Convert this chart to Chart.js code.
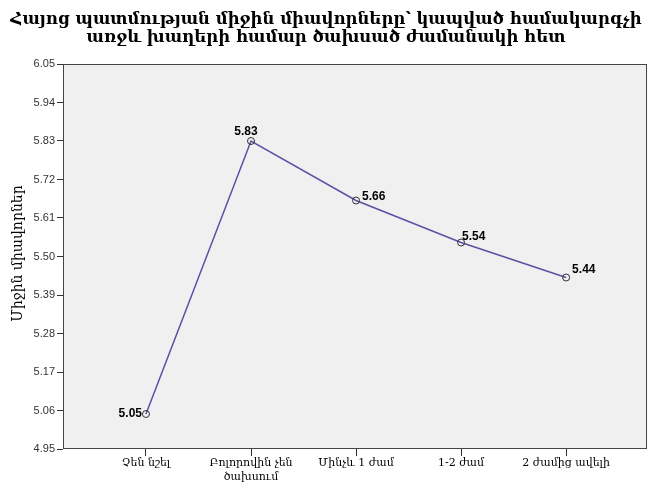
<!DOCTYPE html>
<html>
<head>
<meta charset="utf-8">
<script src="https://cdn.jsdelivr.net/npm/chart.js@4"></script>
<style>
  html, body { margin: 0; padding: 0; background: #fff; }
  #wrap { width: 652px; height: 483px; }
</style>
</head>
<body>
<div id="wrap"><canvas id="chart" width="652" height="483"></canvas></div>
<script>
// Խմբեր՝ ըստ խաղերի համար ծախսած ժամանակի
const categories = ['Չեն նշել', ['Բոլորովին չեն', 'ծախսում'], 'Մինչև 1 ժամ', '1-2 ժամ', '2 ժամից ավելի'];
// Հայոց պատմության միջին միավորները
const meanScores = [5.05, 5.83, 5.66, 5.54, 5.44];
const yTicks = [4.95, 5.06, 5.17, 5.28, 5.39, 5.50, 5.61, 5.72, 5.83, 5.94, 6.05];

const titleLines = ['Հայոց պատմության միջին միավորները՝ կապված համակարգչի', 'առջև խաղերի համար ծախսած ժամանակի հետ'];
const yTitle = 'Միջին միավորներ';

// where each value label sits relative to its point
const labelPos = [
  { dx: -4, dy: 0, align: 'right' },
  { dx: -5, dy: -9, align: 'center' },
  { dx: 6, dy: -4, align: 'left' },
  { dx: 1, dy: -6, align: 'left' },
  { dx: 6, dy: -8, align: 'left' }
];

const armFont = '"DejaVu Serif", serif';

const frame = {
  id: 'frame',
  beforeDraw(chart) {
    const { ctx, chartArea: a } = chart;
    ctx.save();
    ctx.fillStyle = '#f0f0f0';
    ctx.fillRect(a.left, a.top, a.right - a.left, a.bottom - a.top);
    ctx.restore();
  },
  afterDatasetsDraw(chart) {
    const { ctx } = chart;
    const pts = chart.getDatasetMeta(0).data;
    ctx.save();
    ctx.font = 'bold 12px "Liberation Sans", Arial, sans-serif';
    ctx.fillStyle = '#000';
    ctx.textBaseline = 'middle';
    pts.forEach((p, i) => {
      const pos = labelPos[i];
      ctx.textAlign = pos.align;
      ctx.fillText(meanScores[i].toFixed(2), p.x + pos.dx, p.y + pos.dy);
    });
    ctx.restore();
  },
  afterDraw(chart) {
    const { ctx, chartArea: a } = chart;
    ctx.save();
    ctx.strokeStyle = '#444';
    ctx.lineWidth = 1;
    ctx.strokeRect(a.left + 0.5, a.top + 0.5, a.right - a.left - 1, a.bottom - a.top - 1);

    // title
    ctx.fillStyle = '#000';
    ctx.textAlign = 'center';
    ctx.textBaseline = 'middle';
    ctx.font = 'bold 16.5px ' + armFont;
    ctx.fillText(titleLines[0], 326, 20);
    ctx.fillText(titleLines[1], 326, 38);

    // y axis title
    ctx.font = '14px ' + armFont;
    ctx.translate(18, (a.top + a.bottom) / 2 - 3);
    ctx.rotate(-Math.PI / 2);
    ctx.fillText(yTitle, 0, 0);
    ctx.restore();
  }
};

new Chart(document.getElementById('chart'), {
  type: 'line',
  data: {
    datasets: [{
      data: meanScores.map((v, i) => ({ x: i, y: v })),
      borderColor: '#5a50a6',
      borderWidth: 1.5,
      pointRadius: 3.5,
      pointBorderWidth: 1,
      pointBorderColor: '#333',
      pointBackgroundColor: 'rgba(0,0,0,0)',
      tension: 0
    }]
  },
  options: {
    responsive: false,
    animation: false,
    layout: { padding: { top: 64, right: 1, left: 0, bottom: 0 } },
    plugins: {
      legend: { display: false },
      tooltip: { enabled: false }
    },
    scales: {
      x: {
        type: 'linear',
        min: -0.79,
        max: 4.77,
        afterBuildTicks(scale) {
          scale.ticks = categories.map((c, i) => ({ value: i }));
        },
        afterFit(scale) { scale.height = 34; },
        ticks: {
          autoSkip: false,
          maxRotation: 0,
          padding: 1,
          color: '#000',
          font: { family: armFont, size: 11 },
          callback: (v) => categories[v]
        },
        grid: { drawOnChartArea: false, drawTicks: true, tickLength: 7, color: '#333' },
        border: { display: false }
      },
      y: {
        min: 4.95,
        max: 6.05,
        afterBuildTicks(scale) {
          scale.ticks = yTicks.map(v => ({ value: v }));
        },
        afterFit(scale) { scale.width = 63; },
        ticks: {
          padding: 2,
          color: '#333',
          font: { family: '"Liberation Sans", Arial, sans-serif', size: 11 },
          callback: (v) => Number(v).toFixed(2)
        },
        grid: { drawOnChartArea: false, drawTicks: true, tickLength: 6, color: '#333' },
        border: { display: false }
      }
    }
  },
  plugins: [frame]
});
</script>
</body>
</html>
